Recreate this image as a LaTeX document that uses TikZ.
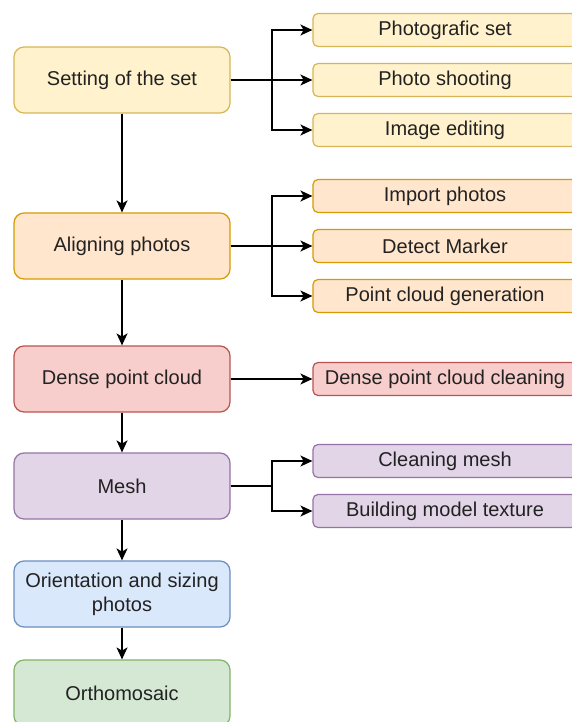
\documentclass[tikz,border=0pt]{standalone}
\usepackage{fontspec}
\setmainfont{Liberation Sans}
\usetikzlibrary{arrows.meta,positioning}
\definecolor{setfill}{HTML}{FFF2CC}
\definecolor{setline}{HTML}{D6B656}
\definecolor{alignfill}{HTML}{FFE6CC}
\definecolor{alignline}{HTML}{D79B00}
\definecolor{densefill}{HTML}{F8CECC}
\definecolor{denseline}{HTML}{B85450}
\definecolor{meshfill}{HTML}{E1D5E7}
\definecolor{meshline}{HTML}{9673A6}
\definecolor{orientfill}{HTML}{DAE8FC}
\definecolor{orientline}{HTML}{6C8EBF}
\definecolor{orthofill}{HTML}{D5E8D4}
\definecolor{ortholine}{HTML}{82B366}
\definecolor{txt}{HTML}{222222}

\begin{document}
\begin{tikzpicture}[x=0.5pt, y=-0.5pt, font=\fontsize{10}{12}\selectfont,
  mainbox/.style={draw, rounded corners=5pt, minimum width=108pt, minimum height=33pt,
    align=center, line width=0.6pt, text=txt, inner sep=2pt},
  subbox/.style={draw, rounded corners=2.5pt, minimum width=132pt, minimum height=16.5pt,
    align=center, line width=0.6pt, text=txt, inner sep=1pt},
  flow/.style={line width=0.7pt, -{Stealth[length=6pt, width=5.5pt, inset=1.6pt]}},
  link/.style={line width=0.7pt}]
\useasboundingbox (0,0) rectangle (572,722);
\fill[white] (0,0) rectangle (572,722);

% main column
\node[mainbox, fill=setfill, draw=setline] (set) at (122,80) {Setting of the set};
\node[mainbox, fill=alignfill, draw=alignline] (align) at (122,246) {Aligning photos};
\node[mainbox, fill=densefill, draw=denseline] (dense) at (122,379) {Dense point cloud};
\node[mainbox, fill=meshfill, draw=meshline] (mesh) at (122,486) {Mesh};
\node[mainbox, fill=orientfill, draw=orientline] (orient) at (122,594) {Orientation and sizing\\photos};
\node[mainbox, fill=orthofill, draw=ortholine] (ortho) at (122,693) {Orthomosaic};

% sub steps
\node[subbox, fill=setfill, draw=setline] (photoset) at (445,30) {Photografic set};
\node[subbox, fill=setfill, draw=setline] (shooting) at (445,80) {Photo shooting};
\node[subbox, fill=setfill, draw=setline] (editing) at (445,130) {Image editing};
\node[subbox, fill=alignfill, draw=alignline] (import) at (445,196) {Import photos};
\node[subbox, fill=alignfill, draw=alignline] (marker) at (445,246) {Detect Marker};
\node[subbox, fill=alignfill, draw=alignline] (pcgen) at (445,296) {Point cloud generation};
\node[subbox, fill=densefill, draw=denseline] (dclean) at (445,379) {Dense point cloud cleaning};
\node[subbox, fill=meshfill, draw=meshline] (mclean) at (445,461) {Cleaning mesh};
\node[subbox, fill=meshfill, draw=meshline] (texture) at (445,511) {Building model texture};

% branch points
\coordinate (bset) at (272,80);
\coordinate (balign) at (272,246);
\coordinate (bmesh) at (272,486);

\foreach \a/\b in {set/align, align/dense, dense/mesh, mesh/orient, orient/ortho}
  \draw[flow] (\a) -- (\b);

\draw[link] (set) -- (bset);
\draw[flow] (bset) -- (shooting);
\foreach \s in {photoset, editing} \draw[flow] (bset) |- (\s);
\draw[link] (align) -- (balign);
\draw[flow] (balign) -- (marker);
\foreach \s in {import, pcgen} \draw[flow] (balign) |- (\s);
\draw[flow] (dense) -- (dclean);
\draw[link] (mesh) -- (bmesh);
\foreach \s in {mclean, texture} \draw[flow] (bmesh) |- (\s);
\end{tikzpicture}
\end{document}
